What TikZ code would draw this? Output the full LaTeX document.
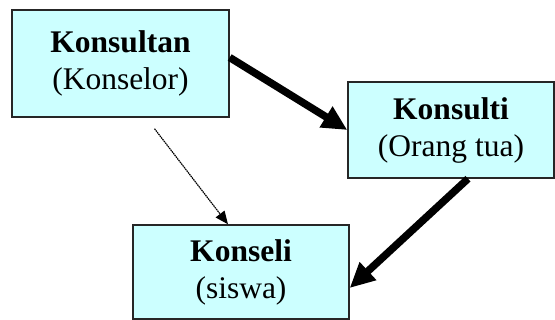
\documentclass[tikz,border=0pt]{standalone}
\usepackage{fontspec}
\setmainfont{Liberation Serif}
\usetikzlibrary{arrows.meta,positioning}

\definecolor{boxcyan}{HTML}{CCFFFF}

\begin{document}
\begin{tikzpicture}[x=1pt, y=1pt,
    % --- Styles ---
    role/.style={draw=black!85, line width=1.4pt, fill=boxcyan, align=center,
                 font=\fontsize{31.5}{37}\selectfont, inner sep=0pt},
    strong/.style={-{Triangle[length=25pt,width=23pt]}, line width=7.5pt},
    weak/.style={-{Triangle[length=13pt,width=11pt]}, line width=1.2pt,
                 dash pattern=on 1.5pt off 0.7pt},
]
\useasboundingbox (0,0) rectangle (555,320);

% === Boxes ===
\node[role, minimum width=217pt, minimum height=107pt] (konsultan) at (120.5, 256.5)
    {\textbf{Konsultan}\\(Konselor)};
\node[role, minimum width=206pt, minimum height=96pt] (konsulti) at (451, 190)
    {\textbf{Konsulti}\\(Orang tua)};
\node[role, minimum width=216pt, minimum height=94pt] (konseli) at (241, 48)
    {\textbf{Konseli}\\(siswa)};

% === Arrows ===
\draw[strong] ([yshift=6pt]konsultan.east) -- (konsulti.west);
\draw[strong] ([xshift=17pt]konsulti.south) -- ([yshift=-16pt]konseli.east);
\draw[weak] ([shift={(34pt,-11pt)}]konsultan.south) -- ([xshift=-13pt]konseli.north);

\end{tikzpicture}
\end{document}
